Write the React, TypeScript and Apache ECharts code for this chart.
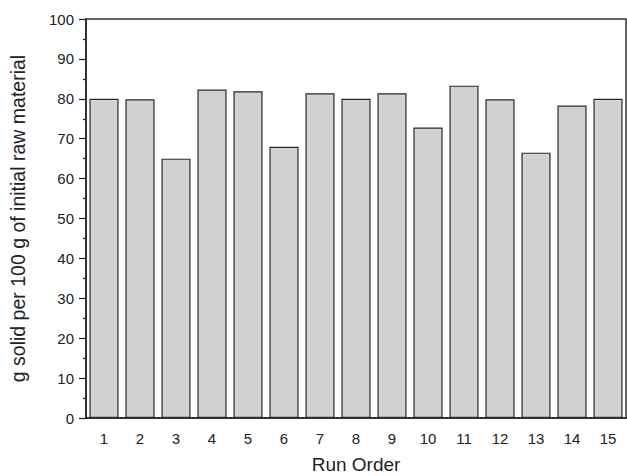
import React, { useEffect, useRef } from "react";
import * as echarts from "echarts";

const categories = ["1", "2", "3", "4", "5", "6", "7", "8", "9", "10", "11", "12", "13", "14", "15"];
const values = [80.0, 79.9, 65.0, 82.3, 81.9, 68.0, 81.4, 80.0, 81.4, 72.8, 83.3, 79.9, 66.5, 78.3, 80.0];
const yTitle = "g solid per 100 g of initial raw material";
const xTitle = "Run Order";

export default function App() {
  const ref = useRef<HTMLDivElement>(null);
  useEffect(() => {
    if (!ref.current) return;
    const chart = echarts.init(ref.current, null, { renderer: "svg" });
    const font = "Liberation Sans, Arial, sans-serif";
    chart.setOption({
      animation: false,
      backgroundColor: "#ffffff",
      grid: {
        left: 86,
        right: 1,
        top: 19,
        bottom: 58,
        outerBoundsMode: "none",
        containLabel: false,
        show: true,
        borderColor: "#333",
        borderWidth: 1.5,
        backgroundColor: "transparent",
      },
      xAxis: {
        type: "category",
        data: categories,
        name: xTitle,
        nameLocation: "middle",
        nameGap: 37,
        nameTextStyle: { fontFamily: font, fontSize: 19, color: "#222" },
        axisLine: { lineStyle: { color: "#222", width: 1.5 } },
        axisTick: { alignWithLabel: true, length: 7, lineStyle: { color: "#222", width: 1.2 } },
        axisLabel: { fontFamily: font, fontSize: 15, color: "#222", margin: 13 },
      },
      yAxis: {
        type: "value",
        min: 0,
        max: 100,
        interval: 10,
        name: yTitle,
        nameLocation: "middle",
        nameGap: 58,
        nameTextStyle: { fontFamily: font, fontSize: 19.5, color: "#222" },
        axisLine: { show: true, lineStyle: { color: "#222", width: 1.5 } },
        axisTick: { show: true, length: 7, lineStyle: { color: "#222", width: 1.2 } },
        minorTick: { show: true, splitNumber: 2, length: 3, lineStyle: { color: "#222", width: 1.2 } },
        splitLine: { show: false },
        axisLabel: { fontFamily: font, fontSize: 15, color: "#222", margin: 12 },
      },
      series: [
        {
          type: "bar",
          data: values,
          barWidth: "81%",
          itemStyle: { color: "#d0d1d0", borderColor: "#2a2a2a", borderWidth: 1.2 },
        },
      ],
    });
    return () => chart.dispose();
  }, []);
  return <div ref={ref} style={{ width: 627, height: 476, position: "absolute", left: 0, top: 0 }} />;
}
